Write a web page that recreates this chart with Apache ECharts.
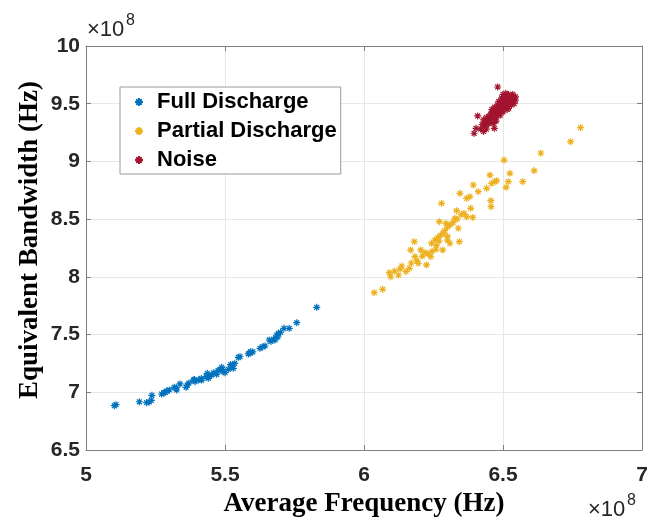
<!DOCTYPE html>
<html>
<head>
<meta charset="utf-8">
<script src="https://cdn.jsdelivr.net/npm/echarts@6/dist/echarts.min.js"></script>
<style>html,body{margin:0;padding:0;background:#fff}#c{width:650px;height:523px}</style>
</head>
<body>
<div id="c"></div>
<script>
// Values in units of 1e8 Hz
const xTicks = [5, 5.5, 6, 6.5, 7];
const yTicks = [6.5, 7, 7.5, 8, 8.5, 9, 9.5, 10];

const fullDischarge = [
  [5.102,6.884],[5.108,6.893],[5.192,6.918],[5.218,6.910],[5.227,6.916],[5.237,6.974],[5.235,6.930],
  [5.272,6.985],[5.281,6.996],[5.290,7.011],[5.285,7.000],[5.300,7.020],[5.317,7.043],[5.326,7.020],
  [5.325,7.040],[5.338,7.072],[5.360,7.043],[5.364,7.063],[5.370,7.080],[5.386,7.106],[5.392,7.092],
  [5.390,7.110],[5.404,7.106],[5.416,7.106],[5.415,7.120],[5.432,7.135],[5.436,7.164],[5.440,7.121],
  [5.445,7.140],[5.452,7.150],[5.460,7.170],[5.470,7.156],[5.475,7.190],[5.482,7.193],[5.488,7.216],
  [5.490,7.200],[5.494,7.178],[5.500,7.170],[5.512,7.199],[5.520,7.240],[5.524,7.228],[5.530,7.208],
  [5.535,7.250],[5.548,7.303],[5.554,7.308],[5.584,7.332],[5.590,7.340],[5.592,7.352],[5.600,7.350],
  [5.626,7.381],[5.636,7.395],[5.644,7.401],[5.659,7.453],[5.665,7.440],[5.675,7.460],[5.680,7.453],
  [5.686,7.496],[5.690,7.480],[5.692,7.511],[5.700,7.520],[5.712,7.554],[5.731,7.554],[5.758,7.603],
  [5.830,7.736]
];

const partialDischarge = [
  [6.037,7.863],[6.067,7.892],[6.091,8.036],[6.096,8.001],[6.110,8.050],[6.124,8.016],[6.130,8.070],
  [6.136,8.094],[6.151,8.045],[6.163,8.074],[6.168,8.233],[6.170,8.120],[6.181,8.305],[6.183,8.175],
  [6.190,8.140],[6.195,8.117],[6.204,8.233],[6.210,8.180],[6.220,8.210],[6.225,8.103],[6.230,8.200],
  [6.240,8.175],[6.243,8.291],[6.245,8.220],[6.255,8.319],[6.259,8.239],[6.260,8.270],[6.265,8.340],
  [6.270,8.310],[6.271,8.478],[6.275,8.360],[6.279,8.637],[6.283,8.233],[6.285,8.377],[6.290,8.400],
  [6.295,8.464],[6.300,8.319],[6.300,8.430],[6.300,8.350],[6.309,8.291],[6.310,8.450],[6.320,8.470],
  [6.327,8.507],[6.333,8.573],[6.335,8.500],[6.339,8.421],[6.343,8.305],[6.345,8.724],[6.350,8.540],
  [6.360,8.550],[6.369,8.521],[6.369,8.680],[6.381,8.695],[6.384,8.594],[6.391,8.515],[6.393,8.796],
  [6.411,8.738],[6.441,8.767],[6.453,8.882],[6.456,8.660],[6.457,8.608],[6.459,8.810],[6.471,8.825],
  [6.477,8.833],[6.504,9.012],[6.511,8.776],[6.519,8.825],[6.525,8.897],[6.571,8.825],[6.612,8.921],
  [6.636,9.071],[6.743,9.171],[6.779,9.292]
];

const noise = [
  [6.420,9.280],[6.430,9.300],[6.425,9.320],[6.440,9.310],[6.435,9.340],[6.450,9.330],[6.445,9.360],
  [6.455,9.350],[6.460,9.380],[6.450,9.390],[6.465,9.370],[6.470,9.400],[6.460,9.420],[6.475,9.410],
  [6.480,9.430],[6.470,9.440],[6.485,9.420],[6.490,9.450],[6.480,9.460],[6.495,9.440],[6.500,9.470],
  [6.490,9.480],[6.505,9.460],[6.510,9.490],[6.500,9.500],[6.515,9.480],[6.520,9.510],[6.510,9.520],
  [6.525,9.500],[6.530,9.530],[6.520,9.540],[6.535,9.520],[6.500,9.530],[6.490,9.510],[6.480,9.490],
  [6.495,9.550],[6.505,9.560],[6.515,9.570],[6.525,9.560],[6.530,9.570],[6.540,9.550],[6.545,9.560],
  [6.535,9.580],[6.520,9.580],[6.510,9.590],[6.500,9.580],[6.530,9.490],[6.515,9.450],[6.500,9.430],
  [6.470,9.470],[6.460,9.450],[6.455,9.410],[6.440,9.380],[6.430,9.360],[6.475,9.380],[6.490,9.400],
  [6.440,9.280],[6.430,9.260],[6.465,9.330],[6.475,9.350],[6.485,9.520],[6.520,9.460],[6.545,9.530],
  [6.540,9.500],[6.481,9.645],[6.537,9.561],[6.409,9.394],[6.403,9.287],[6.396,9.244],[6.469,9.287]
];

const seriesNames = ['Full Discharge', 'Partial Discharge', 'Noise'];
const seriesColors = ['#0072BD', '#EDB120', '#A2142F'];
const seriesData = [fullDischarge, partialDischarge, noise];
const xTitle = 'Average Frequency (Hz)';
const yTitle = 'Equivalent Bandwidth (Hz)';

const star = 'path://M0,5L10,5M5,0L5,10M1.5,1.5L8.5,8.5M8.5,1.5L1.5,8.5';
const tickFont = {fontFamily: "'Liberation Sans', Arial, sans-serif", fontWeight: 'bold', fontSize: 21, color: '#262626'};
const titleFont = {fontFamily: "'Liberation Serif', 'Times New Roman', serif", fontWeight: 'bold', fontSize: 27, color: '#000'};

const chart = echarts.init(document.getElementById('c'), null, {renderer: 'canvas'});
const gridCfg = {left: 86, right: 8, top: 46, bottom: 73, containLabel: false, outerBoundsMode: 'none'};
const axisLineStyle = {color: '#808080', width: 1};
chart.setOption({
  animation: false,
  backgroundColor: '#fff',
  grid: gridCfg,
  legend: {
    orient: 'vertical', left: 120, top: 87,
    data: seriesNames,
    backgroundColor: '#fff', borderColor: '#9a9a9a', borderWidth: 1, borderRadius: 0,
    padding: [4, 4, 3, 14],
    itemWidth: 8, itemHeight: 8, itemGap: 7,
    textStyle: {fontFamily: "'Liberation Sans', Arial, sans-serif", fontWeight: 'bold', fontSize: 22, color: '#000', lineHeight: 20, padding: [0,0,0,9]}
  },
  xAxis: [{
    type: 'value', min: xTicks[0], max: xTicks[xTicks.length-1], interval: 0.5,
    axisLine: {show: true, onZero: false, lineStyle: axisLineStyle},
    axisTick: {show: true, inside: true, length: 5, lineStyle: axisLineStyle},
    axisLabel: Object.assign({margin: 15, formatter: v => String(v)}, tickFont),
    splitLine: {show: true, lineStyle: {color: '#e8e8e8', width: 1}},
    name: xTitle, nameLocation: 'middle', nameGap: 41, nameTextStyle: titleFont
  }, {
    type: 'value', position: 'top', min: xTicks[0], max: xTicks[xTicks.length-1], interval: 0.5,
    axisLine: {show: true, onZero: false, lineStyle: axisLineStyle},
    axisTick: {show: true, inside: true, length: 5, lineStyle: axisLineStyle},
    axisLabel: {show: false}, splitLine: {show: false}
  }],
  yAxis: [{
    type: 'value', min: yTicks[0], max: yTicks[yTicks.length-1], interval: 0.5,
    axisLine: {show: true, onZero: false, lineStyle: axisLineStyle},
    axisTick: {show: true, inside: true, length: 5, lineStyle: axisLineStyle},
    axisLabel: Object.assign({margin: 6, formatter: v => String(v)}, tickFont),
    splitLine: {show: true, lineStyle: {color: '#e8e8e8', width: 1}}
  }, {
    type: 'value', position: 'right', min: yTicks[0], max: yTicks[yTicks.length-1], interval: 0.5,
    axisLine: {show: true, onZero: false, lineStyle: axisLineStyle},
    axisTick: {show: true, inside: true, length: 5, lineStyle: axisLineStyle},
    axisLabel: {show: false}, splitLine: {show: false}
  }],
  graphic: [
    {type: 'text', x: 30, y: 240, rotation: Math.PI / 2,
     style: {text: yTitle, font: "bold 27px 'Liberation Serif', 'Times New Roman', serif", fill: '#000', align: 'center', verticalAlign: 'middle'}},
    {type: 'text', left: 87, top: 19, style: {text: '×10', font: "22px 'Liberation Sans', Arial, sans-serif", fill: '#262626'}},
    {type: 'text', left: 126, top: 13, style: {text: '8', font: "16px 'Liberation Sans', Arial, sans-serif", fill: '#262626'}},
    {type: 'text', left: 588, top: 499, style: {text: '×10', font: "22px 'Liberation Sans', Arial, sans-serif", fill: '#262626'}},
    {type: 'text', left: 627, top: 493, style: {text: '8', font: "16px 'Liberation Sans', Arial, sans-serif", fill: '#262626'}}
  ],
  series: seriesNames.map((n, i) => ({
    name: n, type: 'scatter', data: seriesData[i],
    symbol: star, symbolSize: 7,
    itemStyle: {color: seriesColors[i], borderColor: seriesColors[i], borderWidth: 1.2, opacity: 1}
  }))
});
</script>
</body>
</html>
